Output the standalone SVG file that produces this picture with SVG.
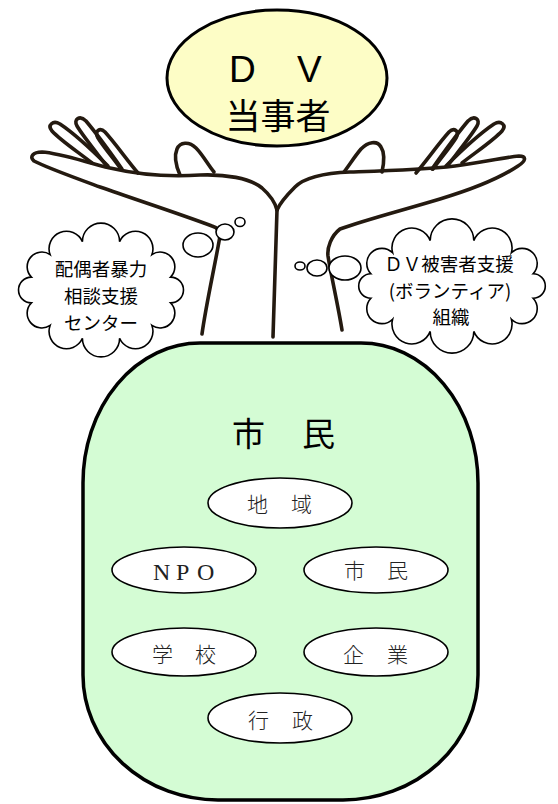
<svg xmlns="http://www.w3.org/2000/svg" width="558" height="804" viewBox="0 0 558 804">
  <style>
    .hand { fill: none; stroke: #241a10; stroke-width: 3.6; stroke-linecap: round; stroke-linejoin: round; }
    .cloud { fill: #ffffff; stroke: #000000; stroke-width: 1.6; }
    .bubble { fill: #ffffff; stroke: #000000; stroke-width: 1.6; }
    .group { fill: #ffffff; stroke: #000000; stroke-width: 1.6; }
    .jp { font-family: "Noto Sans CJK JP", "Noto Sans", sans-serif; fill: #000000; }
    .small { font-family: "Noto Sans CJK JP", sans-serif; font-size: 21px; font-weight: 300; fill: #222222; }
    .cloudtxt { font-family: "Noto Sans CJK JP", sans-serif; font-size: 18.5px; fill: #000000; text-anchor: middle; }
  </style>

  <!-- citizens: large rounded container -->
  <g id="node-shimin">
    <path d="M 200,343 H 361 A 117 140 0 0 1 478,483 V 675 A 135 125 0 0 1 343,800 H 218 A 135 125 0 0 1 83,675 V 483 A 117 140 0 0 1 200,343 Z" fill="#d4fcd4" stroke="#000000" stroke-width="3.5"/>
    <text class="jp" font-size="33" x="232 302" y="446">市民</text>
  </g>

  <!-- member groups inside the container -->
  <g id="node-chiiki">
    <ellipse class="group" cx="280" cy="503" rx="72" ry="25"/>
    <text class="small" x="247 291" y="512">地域</text>
  </g>
  <g id="node-npo">
    <ellipse class="group" cx="184" cy="570" rx="72" ry="23"/>
    <text font-family="Liberation Serif, serif" font-size="24" fill="#222222" x="153 176 197" y="580">NPO</text>
  </g>
  <g id="node-shimin-small">
    <ellipse class="group" cx="376" cy="570" rx="72" ry="23"/>
    <text class="small" x="344 387" y="578">市民</text>
  </g>
  <g id="node-gakko">
    <ellipse class="group" cx="184" cy="652" rx="72" ry="24"/>
    <text class="small" x="152 195" y="662">学校</text>
  </g>
  <g id="node-kigyo">
    <ellipse class="group" cx="376" cy="652" rx="72" ry="24"/>
    <text class="small" x="343 387" y="662">企業</text>
  </g>
  <g id="node-gyosei">
    <ellipse class="group" cx="280" cy="718" rx="72" ry="25"/>
    <text class="small" x="248 292" y="728">行政</text>
  </g>

  <!-- connectors: supporting hands -->
  <g id="connectors">
    <g id="hands" class="hand">
      <!-- left hand -->
      <path d="M 202,334 C 206,305 215,265 220,236 C 221,231 218,228 212,226 C 180,214 140,201 100,187 C 70,176 45,167 34,161 C 29,157 33,152 42,152 C 60,153 85,162 110,168 C 140,175 170,177 200,175 C 225,174 250,178 262,188 C 270,195 275,202 277,210"/>
      <path d="M 92,163 C 78,152 60,140 52,131 C 47,125 53,120 60,124 C 75,134 92,150 108,166"/>
      <path d="M 106,165 C 96,152 83,136 77,126 C 73,119 80,115 86,121 C 97,134 110,152 122,169"/>
      <path d="M 121,169 C 113,158 103,146 98,138 C 94,131 100,127 105,132 C 115,143 127,160 138,173"/>
      <path d="M 180,175 C 176,166 174,156 177,149 C 180,142 189,141 196,148 C 203,155 208,165 214,172"/>
      <!-- right hand -->
      <path d="M 342,330 C 338,305 331,275 328,256 C 327,248 331,236 340,229 C 365,220 400,211 440,199 C 470,190 500,178 518,166 C 526,161 527,156 519,156 C 500,158 480,163 455,166 C 420,170 380,171 350,172 C 325,173 305,177 295,187 C 287,195 280,203 277,210"/>
      <path d="M 462,163 C 476,152 494,140 502,131 C 507,125 501,120 494,124 C 479,134 462,150 446,166"/>
      <path d="M 448,165 C 458,152 471,136 477,126 C 481,119 474,115 468,121 C 457,134 444,152 432,169"/>
      <path d="M 433,169 C 441,158 451,146 456,138 C 460,131 454,127 449,132 C 439,143 427,160 416,173"/>
      <path d="M 382,172 C 384,163 385,153 381,147 C 377,140 368,142 361,149 C 355,156 350,164 344,172"/>
      <!-- joined wrists -->
      <path d="M 277,210 C 276,240 275,280 273,337"/>
    </g>
  </g>

  <!-- DV party -->
  <g id="node-dv">
    <ellipse cx="277" cy="78" rx="110" ry="68" fill="#fdfdc6" stroke="#000000" stroke-width="3"/>
    <text font-family="Liberation Sans, sans-serif" font-size="37" x="229 297" y="82">DV</text>
    <text class="jp" font-size="35" x="278" y="129" text-anchor="middle">当事者</text>
  </g>

  <!-- spousal violence counselling centre -->
  <g id="node-center">
    <path class="cloud" d="M 82.4,241.7 A 18.6 18.6 0 0 1 119.6,241.7 A 17.4 17.4 0 0 1 151.9,254.6 A 14.7 14.7 0 0 1 170.6,277.1 A 12.9 12.9 0 0 1 170.6,302.9 A 14.7 14.7 0 0 1 151.9,325.4 A 17.4 17.4 0 0 1 119.6,338.3 A 18.6 18.6 0 0 1 82.4,338.3 A 17.4 17.4 0 0 1 50.1,325.4 A 14.7 14.7 0 0 1 31.4,302.9 A 12.9 12.9 0 0 1 31.4,277.1 A 14.7 14.7 0 0 1 50.1,254.6 A 17.4 17.4 0 0 1 82.4,241.7 Z"/>
    <ellipse class="bubble" cx="198" cy="245" rx="15" ry="12"/>
    <ellipse class="bubble" cx="225" cy="232" rx="9" ry="8"/>
    <ellipse class="bubble" cx="240" cy="222" rx="5" ry="4.5"/>
    <text class="cloudtxt" x="101" y="276">配偶者暴力</text>
    <text class="cloudtxt" x="101" y="303">相談支援</text>
    <text class="cloudtxt" x="101" y="330">センター</text>
  </g>

  <!-- volunteer support organisations -->
  <g id="node-volunteer">
    <path class="cloud" d="M 430.2,240.6 A 21.8 21.8 0 0 1 473.8,240.6 A 19.8 19.8 0 0 1 511.4,252.8 A 15.1 15.1 0 0 1 533.1,273.8 A 12.2 12.2 0 0 1 533.1,298.2 A 15.1 15.1 0 0 1 511.4,319.2 A 19.8 19.8 0 0 1 473.8,331.4 A 21.8 21.8 0 0 1 430.2,331.4 A 19.8 19.8 0 0 1 392.6,319.2 A 15.1 15.1 0 0 1 370.9,298.2 A 12.2 12.2 0 0 1 370.9,273.8 A 15.1 15.1 0 0 1 392.6,252.8 A 19.8 19.8 0 0 1 430.2,240.6 Z"/>
    <ellipse class="bubble" cx="345" cy="268" rx="16" ry="12"/>
    <ellipse class="bubble" cx="317" cy="268" rx="10" ry="8"/>
    <ellipse class="bubble" cx="300" cy="266" rx="5" ry="4"/>
    <text class="cloudtxt" x="449" y="271">ＤＶ被害者支援</text>
    <text class="cloudtxt" x="450" y="298">(ボランティア)</text>
    <text class="cloudtxt" x="451" y="324">組織</text>
  </g>
</svg>
